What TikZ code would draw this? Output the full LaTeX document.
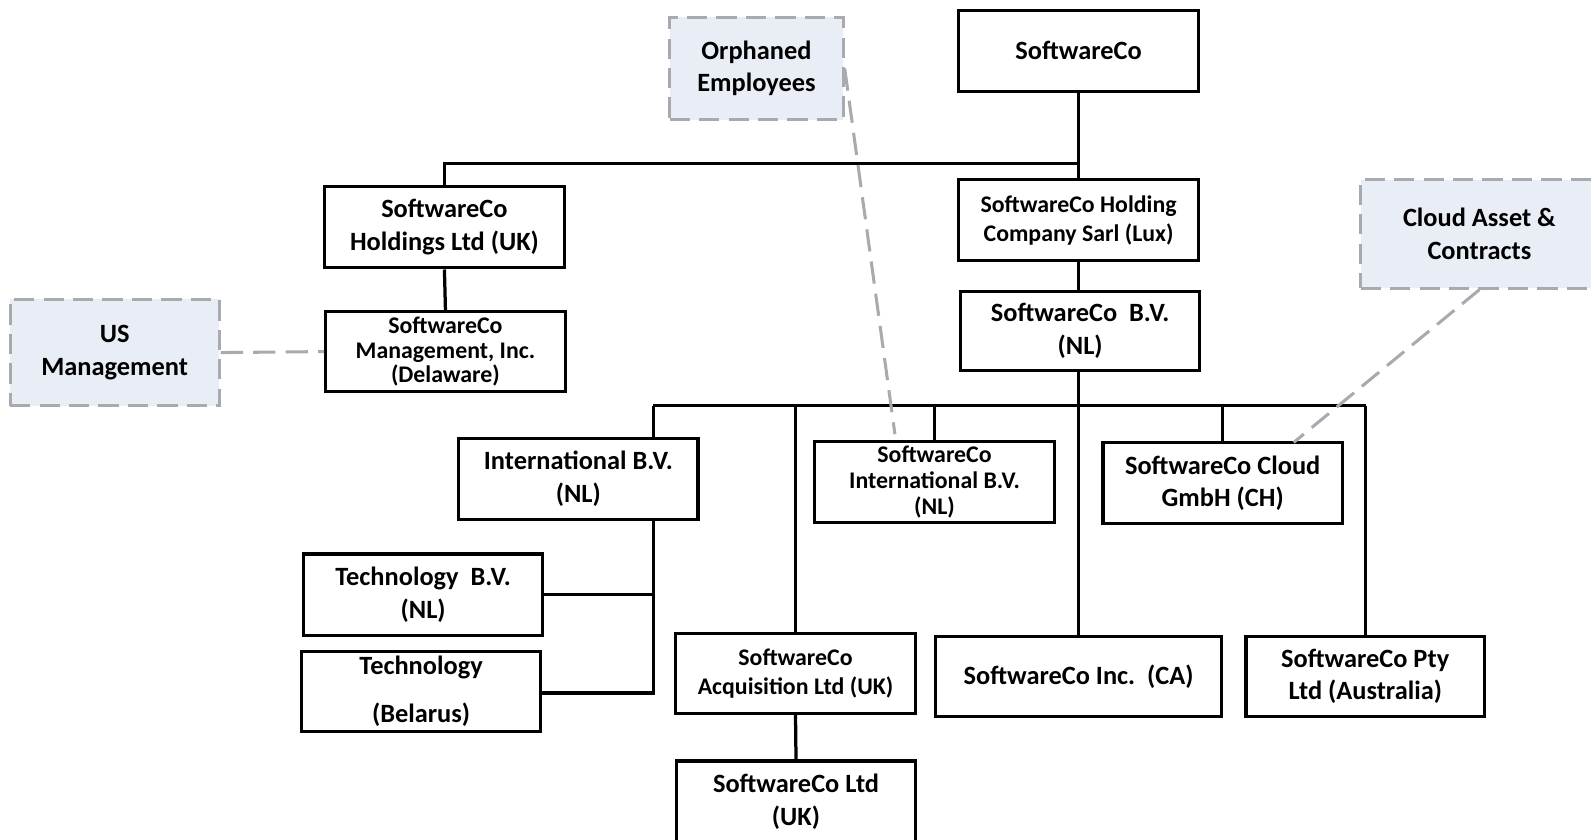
\documentclass[tikz,border=0pt]{standalone}
\usepackage{fontspec}
\setmainfont{Carlito}
\definecolor{notegray}{RGB}{168,170,176}
\definecolor{notefill}{RGB}{233,237,246}
\tikzset{
  box/.style={draw=black, line width=3.2pt, fill=white, align=center, inner sep=0pt,
    minimum width=236pt, minimum height=80pt, font=\fontsize{26}{32}\selectfont\bfseries},
  smalltext/.style={font=\fontsize{23.5}{26.5}\selectfont\bfseries},
  note/.style={draw=notegray, dash pattern=on 20pt off 9pt, line width=3pt, fill=notefill,
    align=center, inner sep=0pt, font=\fontsize{26}{32}\selectfont\bfseries},
  link/.style={draw=black, line width=3.2pt},
  dlink/.style={draw=notegray, line width=3pt, dash pattern=on 22pt off 10pt},
}
\begin{document}
\begin{tikzpicture}[x=1pt,y=-1pt]
\clip (0,0) rectangle (1568,827);
\fill[white] (0,0) rectangle (1568,827);
% boxes
\node[box] (top) at (1063,50) {SoftwareCo};
\node[box, smalltext] (lux) at (1063,217) {SoftwareCo Holding\\[2pt]Company Sarl (Lux)};
\node[box, minimum height=78pt] (bv) at (1064.5,326) {SoftwareCo\ \ B.V.\\(NL)};
\node[box] (ukh) at (438,224) {SoftwareCo\\Holdings Ltd (UK)};
\node[box, smalltext, minimum height=79pt] (mgmt) at (439,346.5) {SoftwareCo\\[-2pt]Management, Inc.\\[-2pt](Delaware)};
\node[box] (intl) at (570,472) {International B.V.\\(NL)};
\node[box] (techbv) at (417,586) {Technology\ \ B.V.\\(NL)};
\node[box, minimum height=79pt] (techby) at (415,681.5) {Technology\\[15pt](Belarus)};
\node[box, smalltext] (swint) at (921,475) {SoftwareCo\\[-1pt]International B.V.\\[-1pt](NL)};
\node[box] (cloud) at (1205,476) {SoftwareCo Cloud\\GmbH (CH)};
\node[box, smalltext, minimum height=79pt] (acq) at (784,663.5) {SoftwareCo\\[2pt]Acquisition Ltd (UK)};
\node[box, minimum width=282pt, minimum height=79pt] (inc) at (1063,666.5) {SoftwareCo Inc.\ \ (CA)};
\node[box, minimum width=235pt, minimum height=79pt] (pty) at (1345.5,666.5) {SoftwareCo Pty\\Ltd (Australia)};
\node[box, minimum width=235pt] (ltd) at (784.5,790) {SoftwareCo Ltd\\(UK)};
% connectors
\coordinate (hjoin) at (1063,161);
\coordinate (busy) at (1063,400);
\draw[link] (top.south) -- (lux.north);
\draw[link] (hjoin) -- (hjoin -| ukh.north) -- (ukh.north);
\draw[link] (ukh.south) -- (mgmt.north);
\draw[link] (lux.south) -- (bv.north -| lux.south);
\draw[link] (bv.south -| top.south) -- (inc.north);
\coordinate (busL) at (644,400);
\coordinate (busR) at (1346,400);
\draw[link] (busL) -- (busR);
\draw[link] (busL) -- (busL |- intl.north);
\draw[link] (busL |- intl.south) -- (644,683) -- (techby.east |- 0,683);
\draw[link] (644,586) -- (techbv.east);
\draw[link] (busy -| acq.north) -- (acq.north);
\draw[link] (busy -| swint.north) -- (swint.north);
\draw[link] (busy -| cloud.north) -- (cloud.north);
\draw[link] (busR) -- (busR |- pty.north);
\draw[link] (acq.south) -- (ltd.north);
% notes
\node[note, minimum width=171pt, minimum height=101pt] (orph) at (745.5,67.5) {Orphaned\\Employees};
\node[note, minimum width=206pt, minimum height=105pt] (usm) at (113,347.5) {US\\Management};
\node[note, minimum width=234pt, minimum height=107pt] (ca) at (1458,230.5) {Cloud Asset \&\\Contracts};
\coordinate (orphend) at (882,428);
\coordinate (cloudend) at (1275,436);
\draw[dlink] (orph.east) -- (orphend);
\draw[dlink] (usm.east) -- (mgmt.west);
\draw[dlink] (ca.south) -- (cloudend);
\end{tikzpicture}
\end{document}
